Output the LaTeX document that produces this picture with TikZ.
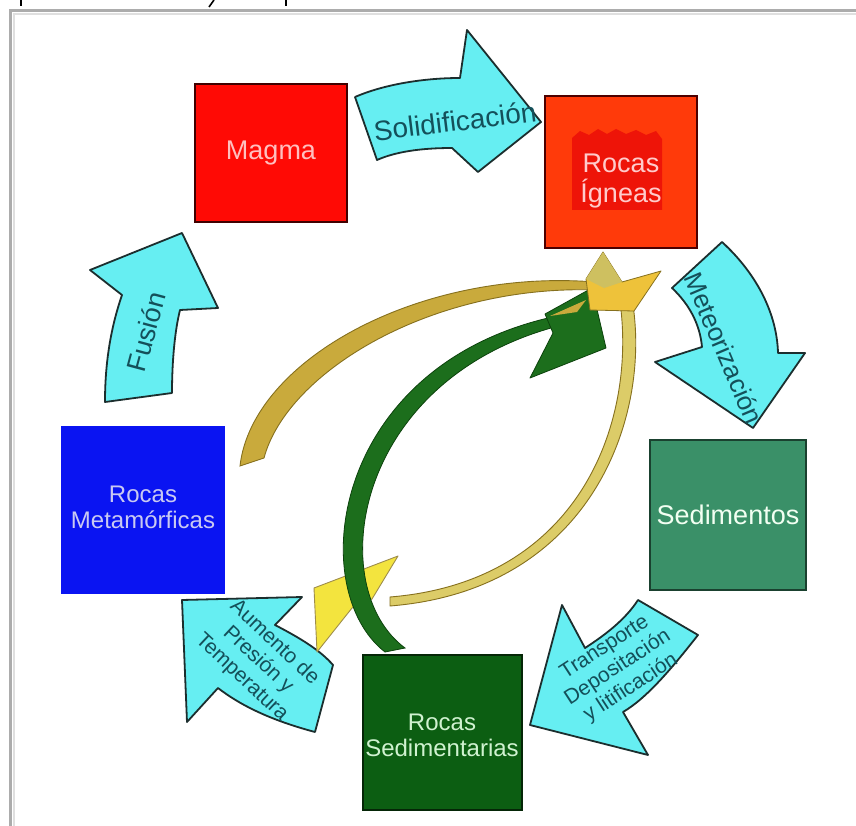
\documentclass[tikz,border=0pt]{standalone}
\usepackage{fontspec}
\setmainfont{Liberation Sans}
\definecolor{cyanfill}{HTML}{66EEF2}
\definecolor{cyanline}{HTML}{1C2E2E}
\definecolor{labelteal}{HTML}{14505A}
\definecolor{magmared}{HTML}{FF0A05}
\definecolor{igneared}{HTML}{FF3A0A}
\definecolor{ignepatch}{HTML}{EE1408}
\definecolor{metablue}{HTML}{0A14F2}
\definecolor{sedgreen}{HTML}{3A9068}
\definecolor{sedrgreen}{HTML}{0C5E12}
\definecolor{goldarc}{HTML}{C9AA3C}
\definecolor{goldline}{HTML}{86701E}
\definecolor{paleyellow}{HTML}{DCCC68}
\definecolor{brightyellow}{HTML}{F3E43E}
\definecolor{goldhead}{HTML}{EEC23A}
\definecolor{olivehead}{HTML}{CEC060}
\definecolor{greenarrow}{HTML}{1C6E1C}
\definecolor{greenline}{HTML}{0C420C}
\tikzset{
  rockbox/.style={draw, line width=1.6pt, inner sep=0pt, align=center},
  boxfont/.style={font=\fontsize{27}{30}\selectfont, align=center},
  smallboxfont/.style={font=\fontsize{24}{26}\selectfont, align=center},
  blockarrow/.style={fill=cyanfill, draw=cyanline, line width=1.8pt, line join=round},
  arrowlabel/.style={text=labelteal, inner sep=0pt, align=center},
}
\begin{document}
\begin{tikzpicture}[x=1pt,y=-1pt]
\useasboundingbox (0,0) rectangle (856,826);
\fill[white] (0,0) rectangle (856,826);

% window frame with a soft shadow
\draw[line width=2pt, gray!25] (14,826) -- (14,14) -- (856,14);
\draw[line width=2.6pt, gray!65] (10.5,826) -- (10.5,10.5) -- (856,10.5);
% descenders of the cut-off caption line
\draw[line width=1.6pt] (21,0) -- (21,6);
\draw[line width=1.6pt] (209,7) -- (214,0);
\draw[line width=1.6pt] (286,0) -- (286,6);

% ---------- rock boxes ----------
\node[rockbox, fill=magmared, draw=black!75!red, minimum width=152pt, minimum height=138pt] (magma) at (271,153) {};
\node[boxfont, text=red!25!white!85!pink] (tmagma) at (magma.center) {Magma};

\node[rockbox, fill=igneared, draw=black!70!red, minimum width=152pt, minimum height=152pt] (ignea) at (621,172) {};
\fill[ignepatch] (572,138) -- (580,131) -- (589,135) -- (598,129) -- (607,134) -- (616,129) -- (626,134) -- (636,130) -- (646,135) -- (656,131) -- (662,139) -- (662,210) -- (572,210) -- cycle;
\node[boxfont, text=red!20!white!90!pink] (tignea) at (621,181) {Rocas\\Ígneas};

\node[rockbox, fill=metablue, draw=metablue, minimum width=162pt, minimum height=166pt] (meta) at (143,510) {};
\node[smallboxfont, text=blue!18!white!90!gray] (tmeta) at (143,507) {Rocas\\Metamórficas};

\node[rockbox, fill=sedgreen, draw=black!55!sedgreen, minimum width=156pt, minimum height=150pt] (sedi) at (728,515) {};
\node[boxfont, text=white!95!green] (tsedi) at (728,515) {Sedimentos};

\node[rockbox, fill=sedrgreen, draw=black!60!sedrgreen, minimum width=159pt, minimum height=155pt] (sedr) at (442.5,732.5) {};
\node[smallboxfont, text=white!85!green!90!gray] (tsedr) at (442,735) {Rocas\\Sedimentarias};

% ---------- cyan block arrows of the outer cycle ----------
% Magma -> Rocas Igneas
\draw[blockarrow] (355,97) .. controls (385,84) and (425,78) .. (460,78)
  -- (467,30) -- (541,122) -- (478,172) -- (452,148)
  .. controls (420,148) and (395,152) .. (377,160) -- cycle;
\node[arrowlabel, rotate=7, font=\fontsize{28}{28}\selectfont] (lsolid) at (455,121) {Solidificación};

% Rocas Igneas -> Sedimentos
\draw[blockarrow] (672,288) -- (722,242)
  .. controls (758,275) and (777,315) .. (778,353)
  -- (805,353) -- (753,428) -- (655,362) -- (702,347)
  .. controls (700,325) and (690,305) .. (672,288) -- cycle;
\node[arrowlabel, rotate=-67, font=\fontsize{26}{26}\selectfont] (lmeteo) at (724,348) {Meteorización};

% Sedimentos -> Rocas Sedimentarias
\draw[blockarrow] (638,600) -- (698,635)
  .. controls (672,668) and (647,698) .. (623,712)
  -- (648,755) -- (530,725) -- (562,605) -- (585,648)
  .. controls (605,635) and (625,620) .. (638,600) -- cycle;
\node[arrowlabel, rotate=33, font=\fontsize{21}{24}\selectfont] (ltrans) at (618,668) {Transporte\\Depositación\\y litificación};

% Rocas Sedimentarias -> Rocas Metamorficas
\draw[blockarrow] (182,600) -- (302,597) -- (275,625)
  .. controls (300,638) and (320,650) .. (333,665)
  -- (315,732)
  .. controls (270,720) and (240,705) .. (218,688)
  -- (187,722) -- cycle;
\node[arrowlabel, rotate=-43, font=\fontsize{21}{24}\selectfont] (lpres) at (258,660) {Aumento de\\Presión y\\Temperatura};

% Rocas Metamorficas -> Magma
\draw[blockarrow] (105,402) -- (172,393)
  .. controls (172,360) and (175,330) .. (180,310)
  -- (218,308) -- (182,233) -- (90,270) -- (122,295)
  .. controls (110,330) and (105,365) .. (105,402) -- cycle;
\node[arrowlabel, rotate=75, font=\fontsize{27}{27}\selectfont] (lfus) at (146,332) {Fusión};

% ---------- inner shortcut arrows ----------
% pale band from Rocas Igneas round to the lower left
\draw[fill=paleyellow, draw=goldline, line width=0.9pt]
  (633,305) .. controls (650,420) and (590,590) .. (390,606)
  -- (390,597) .. controls (575,582) and (634,430) .. (621,310) -- cycle;
\draw[fill=brightyellow, draw=goldline!80, line width=0.9pt, line join=round]
  (398,556) -- (314,588) -- (317,652) -- (352,608) -- (372,599) -- cycle;

% tapering gold arc from Rocas Metamorficas up to Rocas Igneas
\draw[fill=goldarc, draw=goldline, line width=0.9pt]
  (240,466) .. controls (252,360) and (420,268) .. (595,282)
  -- (597,290) .. controls (432,284) and (287,372) .. (264,458) -- cycle;

% green arrow from Rocas Sedimentarias up to Rocas Igneas
\draw[fill=greenarrow, draw=greenline, line width=0.8pt]
  (385,652) .. controls (305,590) and (330,370) .. (548,318)
  -- (551,328) .. controls (352,385) and (324,588) .. (405,648) -- cycle;
\draw[fill=greenarrow, draw=greenline, line width=0.8pt, line join=round]
  (545,314) -- (592,288) -- (606,348) -- (530,378) -- (553,333) -- cycle;
\fill[goldarc] (550,316) -- (586,300) -- (577,312) -- cycle;

% star shaped head of the gold arc
\draw[fill=goldhead, draw=goldline, line width=0.8pt, line join=round]
  (603,252) -- (622,282) -- (661,271) -- (634,311) -- (590,310) -- (586,279) -- cycle;
\fill[olivehead] (603,252) -- (622,282) -- (604,288) -- (586,279) -- cycle;
\end{tikzpicture}
\end{document}
